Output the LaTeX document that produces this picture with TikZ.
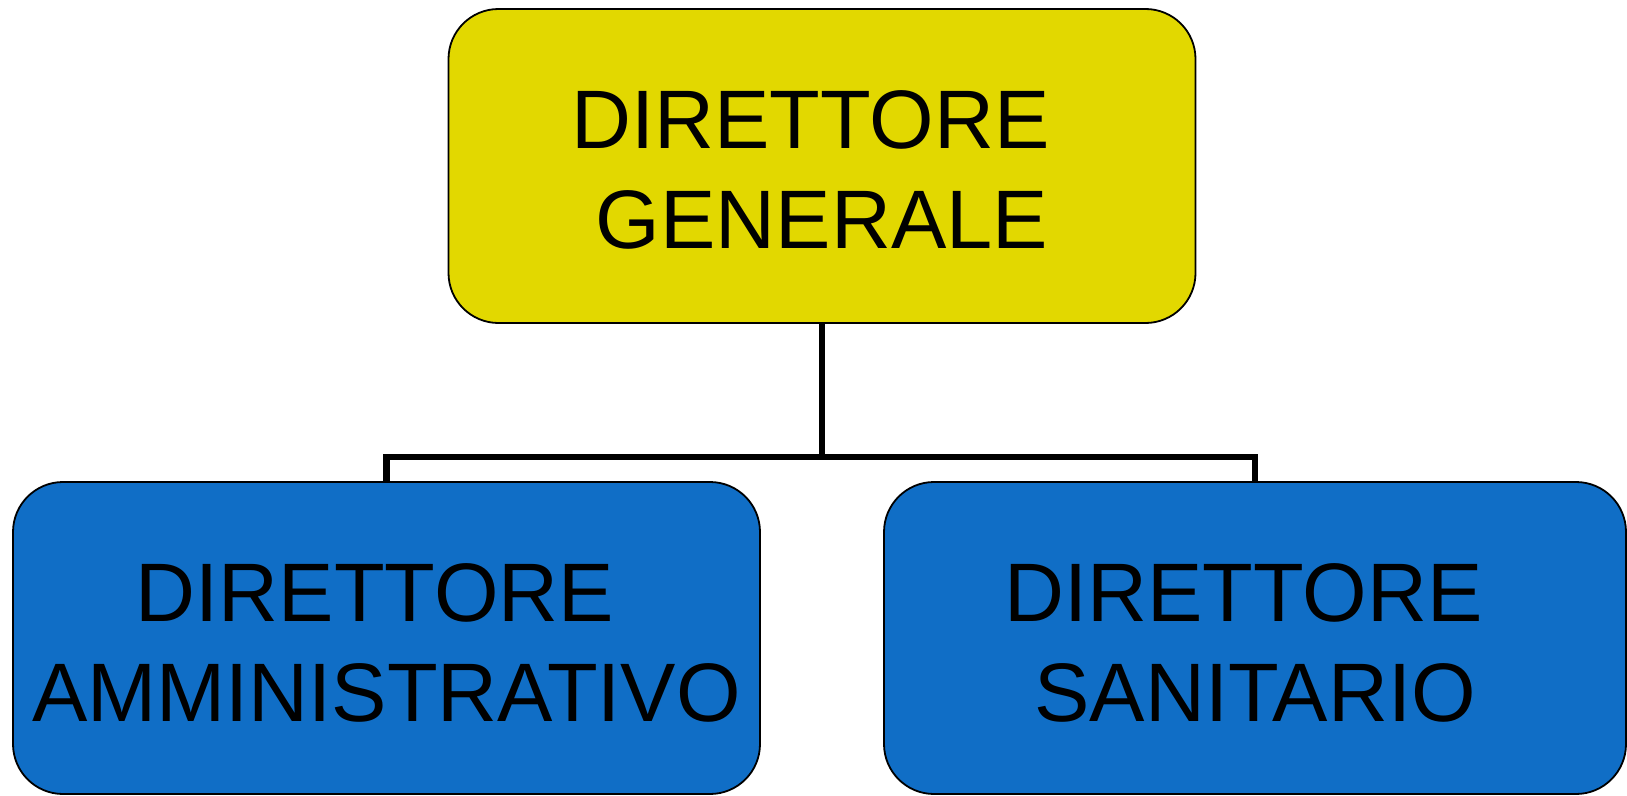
\documentclass[tikz,border=0pt]{standalone}
\usepackage{fontspec}
\setmainfont{Liberation Sans}
\definecolor{dgyellow}{RGB}{226,216,0}
\definecolor{dablue}{RGB}{16,110,198}
\tikzset{
  box/.style={draw=black, line width=1.8pt, rounded corners=50pt, inner sep=0pt},
  topbox/.style={box, fill=dgyellow, minimum width=747pt, minimum height=314pt},
  lowbox/.style={box, fill=dablue, minimum height=312pt},
  label text/.style={inner sep=0pt, align=center, font=\fontsize{83}{100}\selectfont},
  conn/.style={draw=black, line width=6.6pt, line join=miter}
}
\begin{document}
\begin{tikzpicture}[x=1pt,y=-1pt]
\useasboundingbox (0,0) rectangle (1627,795);
\node[topbox] (dg) at (822,166) {};
\node[lowbox, minimum width=747pt] (da) at (386.5,638) {};
\node[lowbox, minimum width=742pt] (ds) at (1255,638) {};
\node[label text] (dgt) at ([yshift=-4pt]dg.center) {DIRETTORE\kern0.278em\\GENERALE};
\node[label text] (dat) at ([yshift=-5pt]da.center) {DIRETTORE\kern0.278em\\AMMINISTRATIVO};
\node[label text] (dst) at ([yshift=-5pt]ds.center) {DIRETTORE\kern0.278em\\SANITARIO};
\coordinate (j) at (822,457);
\draw[conn] (dg.south) -- (j);
\draw[conn] (da.north) |- (j) -| (ds.north);
\end{tikzpicture}
\end{document}
